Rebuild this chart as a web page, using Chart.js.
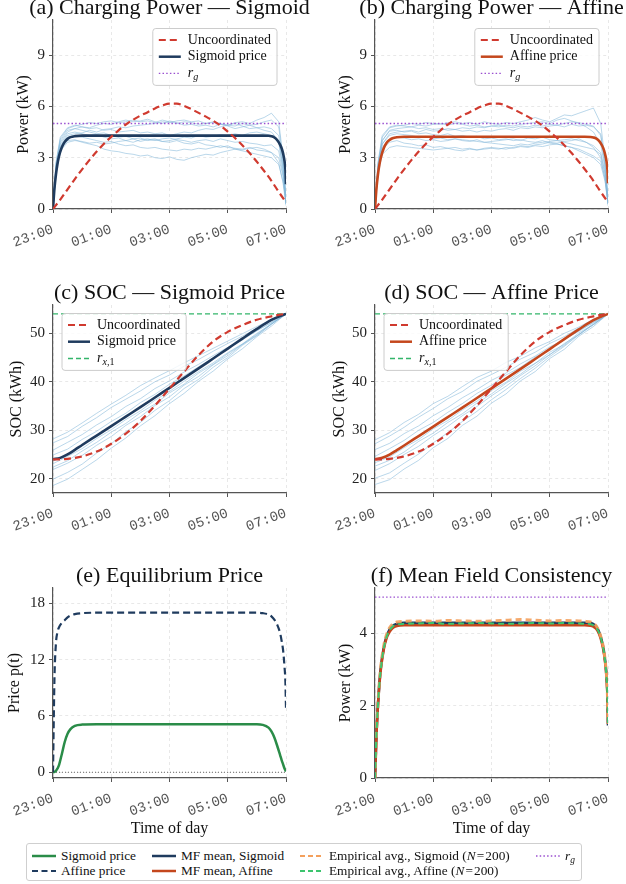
<!DOCTYPE html>
<html><head><meta charset="utf-8">
<script src="https://cdn.jsdelivr.net/npm/chart.js"></script>
<style>
html,body{margin:0;padding:0;background:#fff;overflow:hidden;width:626px;height:884px;position:relative}
canvas{position:absolute}
#legend{position:absolute;left:26px;top:843px;width:554px;height:36px;border:1px solid #cfcfcf;border-radius:3px;font:13.3px 'Liberation Serif';color:#111;background:#fff}
.li{position:absolute;white-space:nowrap;height:14px;line-height:14px}
.li svg{position:absolute;left:0;top:0}
.li span{position:absolute;left:30px;top:0}
</style></head><body>
<canvas id="ca" width="339" height="252" style="left:0;top:-3px"></canvas>
<canvas id="cb" width="357" height="252" style="left:313px;top:-3px"></canvas>
<canvas id="cc" width="339" height="251" style="left:0;top:282px"></canvas>
<canvas id="cd" width="357" height="251" style="left:313px;top:282px"></canvas>
<canvas id="ce" width="339" height="273" style="left:0;top:565px"></canvas>
<canvas id="cf" width="357" height="273" style="left:313px;top:565px"></canvas>
<div id="legend"></div>
<script>
// ---------- data ----------
const tickHours = [0, 2, 4, 6, 8];
const tickLabels = ['23:00', '01:00', '03:00', '05:00', '07:00'];
const powerTicks = [0, 3, 6, 9];
const socTicks = [20, 30, 40, 50];
const priceTicks = [0, 6, 12, 18];
const mfTicks = [0, 2, 4];
const rg = 5;
const rx1 = 54;

const hoursQ = [0,0.25,0.5,0.75,1,1.25,1.5,1.75,2,2.25,2.5,2.75,3,3.25,3.5,3.75,4,4.25,4.5,4.75,5,5.25,5.5,5.75,6,6.25,6.5,6.75,7,7.25,7.5,7.75,8];
const hoursFine = [0,0.05,0.1,0.15,0.2,0.3,0.4,0.5,0.6,0.75,1,1.5,2,2.5,3,3.5,4,4.5,5,5.5,6,6.5,7,7.2,7.4,7.5,7.6,7.7,7.8,7.85,7.9,7.95,7.98,8];
const hoursSamp = [0,0.1,0.25,0.5,0.75,1,1.25,1.5,1.75,2,2.25,2.5,2.75,3,3.25,3.5,3.75,4,4.25,4.5,4.75,5,5.25,5.5,5.75,6,6.25,6.5,6.75,7,7.25,7.5,7.75,7.9,8];
const hoursSoc = [0,0.25,0.5,0.75,1,1.5,2,2.5,3,3.5,4,4.5,5,5.5,6,6.5,7,7.5,7.75,8];
const hoursHalf = [0,0.5,1,1.5,2,2.5,3,3.5,4,4.5,5,5.5,6,6.5,7,7.5,8];

const powerUnc = [0.0,0.55,1.15,1.75,2.32,2.86,3.36,3.82,4.22,4.60,4.94,5.22,5.46,5.66,5.88,6.05,6.16,6.16,6.03,5.84,5.62,5.40,5.16,4.88,4.52,4.15,3.73,3.27,2.76,2.22,1.65,1.00,0.40];
const powerMfSig = [0,1.2,2.0,2.6,3.05,3.6,3.92,4.1,4.2,4.26,4.29,4.29,4.29,4.29,4.29,4.29,4.29,4.29,4.29,4.29,4.29,4.29,4.29,4.29,4.28,4.25,4.18,4.02,3.75,3.55,3.25,2.8,2.3,1.45];
const powerMfAff = [0,1.2,2.0,2.58,3.0,3.55,3.87,4.04,4.14,4.2,4.22,4.22,4.22,4.22,4.22,4.22,4.22,4.22,4.22,4.22,4.22,4.22,4.22,4.22,4.21,4.18,4.12,3.97,3.7,3.5,3.2,2.78,2.3,1.5];
const powerEmpSig = [0,1.25,2.05,2.65,3.1,3.65,3.97,4.15,4.25,4.31,4.33,4.34,4.33,4.35,4.34,4.33,4.34,4.36,4.38,4.36,4.34,4.35,4.34,4.33,4.31,4.27,4.2,4.04,3.77,3.57,3.27,2.82,2.32,1.5];
const powerEmpAff = [0,1.2,2.0,2.6,3.02,3.58,3.9,4.08,4.18,4.24,4.26,4.27,4.28,4.26,4.27,4.28,4.27,4.26,4.27,4.28,4.27,4.28,4.27,4.26,4.25,4.22,4.15,4.0,3.73,3.53,3.23,2.79,2.3,1.5];
const priceSig = [0,0.03,0.15,0.38,0.7,1.9,3.2,4.1,4.6,4.95,5.08,5.11,5.11,5.11,5.11,5.11,5.11,5.11,5.11,5.11,5.11,5.11,5.11,5.05,4.75,4.35,3.7,2.8,1.8,1.3,0.85,0.4,0.2,0.08];
const priceAff = [0,10.0,13.7,14.9,15.4,15.9,16.2,16.5,16.7,16.85,16.95,17.0,17.0,17.0,17.0,17.0,17.0,17.0,17.0,17.0,17.0,17.0,17.0,16.95,16.8,16.6,16.25,15.7,14.8,14.0,13.0,11.2,9.6,6.8];

const socUnc = [24.0,24.0,24.1,24.3,24.6,25.6,27.2,29.3,31.9,35.1,38.6,42.1,45.5,48.3,50.3,51.7,52.8,53.5,53.8,54.0];
const socMfSig = [24.0,24.3,25.0,25.95,26.95,28.9,30.85,32.8,34.75,36.75,38.75,40.75,42.75,44.8,46.85,48.9,50.9,52.75,53.45,54.0];
const socMfAff = [24.0,24.3,24.95,25.9,26.85,28.8,30.75,32.7,34.65,36.65,38.65,40.65,42.65,44.7,46.75,48.8,50.8,52.7,53.4,54.0];

const sampPowerSig = [
 [0,2.6,4.1,4.7,4.85,4.95,5.05,5.0,5.1,5.15,5.05,5.1,5.2,5.1,5.15,5.05,5.2,5.1,5.0,5.1,5.05,4.95,5.0,5.1,5.0,4.9,5.05,5.1,5.0,5.2,5.35,5.6,5.1,3.0,0.6],
 [0,2.4,3.9,4.5,4.7,4.8,4.75,4.9,5.0,4.95,5.1,5.2,5.1,5.15,5.25,5.1,5.0,5.15,5.05,4.9,4.95,4.85,4.9,4.8,4.95,4.85,4.7,4.8,4.9,4.75,4.8,4.7,4.3,2.6,0.3],
 [0,2.3,3.8,4.4,4.5,4.4,4.3,4.35,4.2,4.1,4.15,4.0,4.1,3.95,4.05,4.1,3.95,4.0,4.1,4.2,4.15,4.3,4.2,4.25,4.35,4.3,4.4,4.3,4.45,4.5,4.4,4.3,3.9,2.2,0.5],
 [0,2.2,3.6,4.2,4.3,4.2,4.1,4.0,3.9,3.95,3.8,3.7,3.75,3.6,3.55,3.6,3.5,3.45,3.4,3.5,3.45,3.55,3.5,3.6,3.7,3.6,3.55,3.5,3.6,3.45,3.4,3.3,3.0,1.9,0.3],
 [0,2.1,3.5,4.0,4.05,3.9,3.8,3.7,3.5,3.4,3.35,3.25,3.2,3.1,3.15,3.0,2.95,3.05,2.9,2.85,3.0,3.1,3.2,3.15,3.3,3.4,3.5,3.45,3.55,3.6,3.5,3.3,2.7,1.5,0.2],
 [0,2.5,4.0,4.6,4.7,4.6,4.5,4.4,4.45,4.3,4.2,4.25,4.1,4.15,4.0,4.05,3.95,3.9,4.0,3.85,3.8,3.9,3.75,3.7,3.6,3.7,3.5,3.4,3.3,3.2,3.1,3.0,2.6,1.6,0.4],
 [0,2.7,4.2,4.75,4.9,4.8,4.7,4.75,4.6,4.65,4.5,4.55,4.6,4.45,4.5,4.4,4.45,4.3,4.4,4.5,4.45,4.6,4.7,4.65,4.8,4.9,4.85,5.0,4.9,4.95,5.1,5.2,4.8,2.8,0.8],
 [0,2.3,3.7,4.3,4.4,4.45,4.6,4.5,4.65,4.7,4.8,4.75,4.85,4.9,4.95,5.0,5.1,5.05,5.15,5.2,5.1,5.15,5.0,5.05,4.95,4.9,5.0,4.85,4.7,4.75,4.6,4.5,4.0,2.4,0.5],
 [0,2.0,3.4,3.9,4.0,3.95,3.85,3.9,3.8,3.85,3.95,4.0,3.9,4.05,4.1,4.0,4.1,4.15,4.05,4.0,3.9,4.0,4.05,3.95,4.1,4.0,3.9,3.95,3.85,3.8,3.7,3.75,3.4,2.0,0.3]
];
const sampPowerAff = [
 [0,2.6,4.2,4.75,4.85,4.9,5.0,4.95,5.05,5.0,4.95,5.05,5.1,5.0,5.05,4.95,5.1,5.0,4.95,5.05,5.0,5.1,5.2,5.35,5.2,5.1,5.3,5.5,5.45,5.6,5.75,5.9,5.0,2.8,0.6],
 [0,2.4,4.0,4.6,4.7,4.75,4.8,4.9,4.85,4.95,5.0,4.9,5.0,4.95,4.85,4.9,4.8,4.85,4.9,4.8,4.75,4.85,4.8,4.9,4.85,4.95,4.9,5.0,5.1,5.05,4.95,4.85,4.3,2.5,0.3],
 [0,2.3,3.8,4.3,4.4,4.35,4.3,4.2,4.25,4.1,4.15,4.05,4.1,4.0,3.95,4.05,3.9,3.95,4.0,4.05,4.1,4.0,4.15,4.1,4.2,4.05,4.0,3.9,3.8,3.7,3.6,3.5,3.2,2.0,0.5],
 [0,2.1,3.5,3.9,4.0,3.85,3.8,3.7,3.75,3.6,3.65,3.55,3.6,3.5,3.55,3.45,3.5,3.55,3.5,3.6,3.55,3.65,3.6,3.7,3.65,3.75,3.8,3.7,3.6,3.5,3.3,3.1,2.8,1.8,0.3],
 [0,2.0,3.2,3.6,3.7,3.65,3.6,3.55,3.5,3.45,3.5,3.55,3.45,3.4,3.5,3.45,3.55,3.6,3.55,3.5,3.6,3.7,3.65,3.75,3.8,3.9,3.85,3.95,4.0,4.1,3.9,3.6,3.0,1.7,0.2],
 [0,2.5,4.0,4.55,4.6,4.5,4.55,4.4,4.45,4.35,4.3,4.4,4.25,4.3,4.2,4.25,4.1,4.15,4.05,4.1,4.0,4.05,3.95,3.9,4.0,3.85,3.8,3.7,3.6,3.4,3.2,3.0,2.6,1.6,0.4],
 [0,2.7,4.3,4.8,4.9,4.85,4.8,4.7,4.75,4.65,4.7,4.6,4.65,4.55,4.6,4.5,4.6,4.55,4.65,4.7,4.6,4.75,4.7,4.8,4.75,4.85,4.9,4.8,4.95,4.85,4.9,4.8,4.4,2.6,0.8],
 [0,2.3,3.8,4.4,4.5,4.55,4.6,4.5,4.65,4.55,4.6,4.7,4.65,4.75,4.7,4.8,4.75,4.85,4.8,4.9,4.85,4.95,5.0,5.05,5.1,5.0,5.2,5.3,5.15,5.0,4.8,4.5,3.8,2.3,0.5],
 [0,2.2,3.6,4.1,4.2,4.15,4.05,4.1,4.0,4.05,3.95,4.0,4.1,4.05,4.0,3.95,3.9,3.85,3.8,3.75,3.7,3.8,3.75,3.85,3.9,3.95,4.0,4.05,4.1,4.0,3.9,3.7,3.3,2.1,0.3]
];
const sampSocSig = [
 [28.2,29.6,31.5,33.5,35.4,37.2,39.2,40.8,42.3,43.9,45.4,46.9,48.4,49.9,51.4,52.8,54.0],
 [27.4,28.7,30.8,32.6,34.7,36.4,38.1,40.0,41.4,43.2,44.6,46.3,47.9,49.4,51.0,52.6,54.0],
 [25.9,27.5,29.1,31.1,32.8,34.9,36.5,38.6,40.2,42.0,43.6,45.4,47.1,48.8,50.5,52.3,54.0],
 [24.9,26.1,28.1,29.8,31.8,33.5,35.7,37.4,39.5,41.2,43.1,44.9,46.9,48.6,50.6,52.2,54.0],
 [23.1,24.6,26.2,28.3,30.1,32.2,34.0,36.2,38.0,40.1,42.1,43.9,46.0,47.8,50.0,51.9,54.0],
 [22.4,23.7,25.7,27.5,29.6,31.4,33.6,35.4,37.7,39.5,41.8,43.6,45.8,47.7,49.8,52.0,54.0],
 [21.9,23.2,24.8,26.9,28.7,31.0,32.8,35.1,36.9,39.3,41.1,43.5,45.4,47.7,49.6,51.9,54.0],
 [19.9,21.3,23.0,25.3,27.2,29.7,31.6,34.1,36.1,38.6,40.5,43.0,45.0,47.5,49.5,51.9,54.0],
 [18.6,19.9,21.9,23.9,26.3,28.4,30.9,33.0,35.5,37.6,40.1,42.2,44.7,46.8,49.3,51.5,54.0]
];
const sampSocAff = [
 [28.0,29.5,31.6,33.3,35.5,37.0,39.0,40.9,42.2,44.0,45.3,47.0,48.3,50.0,51.3,52.9,54.0],
 [27.2,28.8,30.6,32.7,34.5,36.5,38.0,40.1,41.5,43.0,44.7,46.1,47.9,49.3,51.1,52.5,54.0],
 [26.0,27.3,29.3,30.9,33.0,34.7,36.7,38.4,40.3,41.8,43.7,45.3,47.2,48.7,50.6,52.2,54.0],
 [24.6,26.2,27.9,30.0,31.6,33.7,35.5,37.6,39.3,41.4,43.0,45.1,46.7,48.8,50.4,52.3,54.0],
 [23.3,24.5,26.4,28.1,30.3,32.0,34.2,36.0,38.2,39.9,42.2,43.8,46.1,47.7,50.1,51.8,54.0],
 [22.6,23.8,25.5,27.7,29.4,31.6,33.4,35.6,37.5,39.7,41.6,43.8,45.6,47.9,49.7,52.0,54.0],
 [21.7,23.1,25.0,26.7,28.9,30.8,33.0,34.9,37.1,39.1,41.3,43.3,45.6,47.5,49.8,51.8,54.0],
 [20.1,21.2,23.2,25.1,27.4,29.5,31.8,33.9,36.3,38.4,40.7,42.8,45.2,47.3,49.7,51.8,54.0],
 [18.8,19.8,22.0,23.8,26.4,28.3,31.0,32.9,35.6,37.5,40.2,42.1,44.8,46.7,49.4,51.4,54.0]
];

// ---------- styles ----------
const SERIF = "'Liberation Serif', 'Times New Roman', serif";
const MONO = "'Liberation Mono', 'DejaVu Sans Mono', monospace";
const NAVY = '#1f3b5e', AFF = '#c4471d', UNC = '#d03a2f', RG = '#9a4fd0';
const SAMP = 'rgba(130,182,216,0.55)', RX1 = '#33b56a', GREEN = '#2a8c48';
const EMP_SIG = 'rgba(244,160,92,0.9)', EMP_AFF = '#3cc46e';

const pts = (xs, ys) => ys.map((y, i) => ({x: xs[i], y}));
function ds(xs, ys, color, o) {
  return Object.assign({data: pts(xs, ys), borderColor: color, borderWidth: 2.4, pointRadius: 0,
    fill: false, tension: 0, yAxisID: 'y', borderJoinStyle: 'round'}, o || {});
}
const smooth = {cubicInterpolationMode: 'monotone'};
function samples(xs, arrs) {
  return arrs.map(a => ds(xs, a, SAMP, {borderWidth: 1, order: 20}));
}

// rich text for legends
function fontStr(p, size) { const s = p.sub ? size * 0.72 : size; return (p.i ? 'italic ' : '') + s + 'px ' + SERIF; }
function richWidth(ctx, parts, size) { let w = 0; for (const p of parts) { ctx.font = fontStr(p, size); w += ctx.measureText(p.t).width; } return w; }
function drawRich(ctx, parts, x, y, size) {
  for (const p of parts) { ctx.font = fontStr(p, size); ctx.fillText(p.t, x, y + (p.sub ? size * 0.3 : 0)); x += ctx.measureText(p.t).width; }
}
const lblUnc = [{t: 'Uncoordinated'}];
const lblSig = [{t: 'Sigmoid price'}];
const lblAff = [{t: 'Affine price'}];
const lblRg = [{t: 'r', i: true}, {t: 'g', i: true, sub: true}];
const lblRx = [{t: 'r', i: true}, {t: 'x', i: true, sub: true}, {t: ',1', sub: true}];

function panelLegend(items, align) {
  return {
    id: 'panelLegend',
    afterDatasetsDraw(chart) {
      const ctx = chart.ctx, ca = chart.chartArea, size = 14, rowH = 16.7;
      ctx.save();
      const tw = Math.max(...items.map(it => richWidth(ctx, it.parts, size)));
      const w = 6 + 22 + 7 + tw + 6;
      const h = rowH * (items.length - 1) + 23.5;
      const x = align === 'right' ? ca.right - 9 - w : ca.left + 9;
      const y = ca.top + 8.5;
      const r = 3;
      ctx.beginPath();
      ctx.moveTo(x + r, y); ctx.lineTo(x + w - r, y); ctx.arcTo(x + w, y, x + w, y + r, r);
      ctx.lineTo(x + w, y + h - r); ctx.arcTo(x + w, y + h, x + w - r, y + h, r);
      ctx.lineTo(x + r, y + h); ctx.arcTo(x, y + h, x, y + h - r, r);
      ctx.lineTo(x, y + r); ctx.arcTo(x, y, x + r, y, r); ctx.closePath();
      ctx.fillStyle = 'rgba(255,255,255,0.82)'; ctx.fill();
      ctx.strokeStyle = '#cccccc'; ctx.lineWidth = 1; ctx.stroke();
      items.forEach((it, i) => {
        const cy = y + 11.5 + i * rowH;
        ctx.beginPath(); ctx.setLineDash(it.dash || []); ctx.strokeStyle = it.color; ctx.lineWidth = it.width;
        ctx.moveTo(x + 6, cy); ctx.lineTo(x + 28, cy); ctx.stroke(); ctx.setLineDash([]);
        ctx.fillStyle = '#111'; ctx.textBaseline = 'middle'; ctx.textAlign = 'left';
        drawRich(ctx, it.parts, x + 35, cy, size);
      });
      ctx.restore();
    }
  };
}

const DASH = [7, 4], DOT = [1.5, 2.2];

function makeChart(id, cfg) {
  const yW = cfg.col === 0 ? 53 : 62;
  const gridOpts = {color: '#e3e3e3', lineWidth: 0.8, tickLength: 4, tickColor: '#555', tickWidth: 1, tickBorderDash: []};
  const borderOpts = {display: true, color: '#555', width: 1.2, dash: [3, 3]};
  new Chart(document.getElementById(id), {
    type: 'line',
    data: {datasets: cfg.datasets},
    options: {
      responsive: false, animation: false, devicePixelRatio: 1,
      layout: {padding: 0},
      plugins: {
        legend: {display: false}, tooltip: {enabled: false},
        title: {display: true, text: cfg.title, color: '#111', font: {family: SERIF, size: 22, weight: 'normal', lineHeight: 1}, padding: {top: 0, bottom: 1}}
      },
      scales: {
        x: {
          type: 'linear', min: 0, max: 8,
          afterBuildTicks: s => { s.ticks = tickHours.map(v => ({value: v})); },
          afterFit: s => { s.height = cfg.xH; },
          ticks: {autoSkip: false, minRotation: 20, maxRotation: 20, padding: 8, color: '#555',
            font: {family: MONO, size: 14}, callback: v => tickLabels[tickHours.indexOf(v)]},
          grid: gridOpts, border: borderOpts,
          title: {display: !!cfg.xTitle, text: cfg.xTitle || '', color: '#111', font: {family: SERIF, size: 16, weight: 'normal', lineHeight: 1.2}, padding: {top: 0, bottom: 0}}
        },
        y: {
          type: 'linear', min: cfg.yMin, max: cfg.yMax,
          afterBuildTicks: s => { s.ticks = cfg.yTicks.map(v => ({value: v})); },
          afterFit: s => { s.width = yW; },
          ticks: {padding: 4, color: '#222', font: {family: SERIF, size: 15}},
          grid: gridOpts, border: borderOpts,
          title: {display: true, text: cfg.yTitle, color: '#111', font: {family: SERIF, size: 16, weight: 'normal', lineHeight: 1.2}, padding: {top: cfg.yTitleCx - 9.6, bottom: 0}}
        },
        yR: {
          type: 'linear', position: 'right', display: true,
          grid: {display: false, drawTicks: false}, border: {display: false}, ticks: {display: false},
          afterFit: s => { s.width = yW; }
        }
      }
    },
    plugins: cfg.legend ? [panelLegend(cfg.legend.items, cfg.legend.align)] : []
  });
}

const legPowerSig = [
  {parts: lblUnc, color: UNC, dash: DASH, width: 2},
  {parts: lblSig, color: NAVY, width: 2.5},
  {parts: lblRg, color: RG, dash: DOT, width: 1.3}];
const legPowerAff = [
  {parts: lblUnc, color: UNC, dash: DASH, width: 2},
  {parts: lblAff, color: AFF, width: 2.5},
  {parts: lblRg, color: RG, dash: DOT, width: 1.3}];
const legSocSig = [
  {parts: lblUnc, color: UNC, dash: DASH, width: 2},
  {parts: lblSig, color: NAVY, width: 2.5},
  {parts: lblRx, color: RX1, dash: [5, 3], width: 1.5}];
const legSocAff = [
  {parts: lblUnc, color: UNC, dash: DASH, width: 2},
  {parts: lblAff, color: AFF, width: 2.5},
  {parts: lblRx, color: RX1, dash: [5, 3], width: 1.5}];

makeChart('ca', {col: 0, title: '(a) Charging Power — Sigmoid', yTitle: 'Power (kW)', yMin: 0, yMax: 11.05, yTicks: powerTicks, yTitleCx: 23.5, xH: 40,
  legend: {align: 'right', items: legPowerSig},
  datasets: [
    ds(hoursQ, powerUnc, UNC, Object.assign({borderDash: DASH, borderWidth: 2.2, order: 0}, smooth)),
    ds(hoursFine, powerMfSig, NAVY, Object.assign({borderWidth: 2.6, order: 1}, smooth)),
    ds([0, 8], [rg, rg], RG, {borderDash: DOT, borderWidth: 1.3, order: 2}),
    ...samples(hoursSamp, sampPowerSig)]});

makeChart('cb', {col: 1, title: '(b) Charging Power — Affine', yTitle: 'Power (kW)', yMin: 0, yMax: 11.05, yTicks: powerTicks, yTitleCx: 33, xH: 40,
  legend: {align: 'right', items: legPowerAff},
  datasets: [
    ds(hoursQ, powerUnc, UNC, Object.assign({borderDash: DASH, borderWidth: 2.2, order: 0}, smooth)),
    ds(hoursFine, powerMfAff, AFF, Object.assign({borderWidth: 2.6, order: 1}, smooth)),
    ds([0, 8], [rg, rg], RG, {borderDash: DOT, borderWidth: 1.3, order: 2}),
    ...samples(hoursSamp, sampPowerAff)]});

makeChart('cc', {col: 0, title: '(c) SOC — Sigmoid Price', yTitle: 'SOC (kWh)', yMin: 17.05, yMax: 55.84, yTicks: socTicks, yTitleCx: 16.7, xH: 40,
  legend: {align: 'left', items: legSocSig},
  datasets: [
    ds(hoursSoc, socUnc, UNC, Object.assign({borderDash: DASH, borderWidth: 2.2, order: 0}, smooth)),
    ds(hoursSoc, socMfSig, NAVY, Object.assign({borderWidth: 2.6, order: 1}, smooth)),
    ds([0, 8], [rx1, rx1], RX1, {borderDash: [5, 3], borderWidth: 1.3, order: 2}),
    ...samples(hoursHalf, sampSocSig)]});

makeChart('cd', {col: 1, title: '(d) SOC — Affine Price', yTitle: 'SOC (kWh)', yMin: 17.05, yMax: 55.84, yTicks: socTicks, yTitleCx: 26.7, xH: 40,
  legend: {align: 'left', items: legSocAff},
  datasets: [
    ds(hoursSoc, socUnc, UNC, Object.assign({borderDash: DASH, borderWidth: 2.2, order: 0}, smooth)),
    ds(hoursSoc, socMfAff, AFF, Object.assign({borderWidth: 2.6, order: 1}, smooth)),
    ds([0, 8], [rx1, rx1], RX1, {borderDash: [5, 3], borderWidth: 1.3, order: 2}),
    ...samples(hoursHalf, sampSocAff)]});

makeChart('ce', {col: 0, title: '(e) Equilibrium Price', yTitle: 'Price p(t)', yMin: -0.61, yMax: 19.63, yTicks: priceTicks, yTitleCx: 15, xH: 60, xTitle: 'Time of day',
  datasets: [
    ds(hoursFine, priceSig, GREEN, Object.assign({borderWidth: 2.5, order: 1}, smooth)),
    ds(hoursFine, priceAff, NAVY, Object.assign({borderDash: DASH, borderWidth: 2.2, order: 0}, smooth)),
    ds([0, 8], [0, 0], '#666', {borderDash: [1, 2], borderWidth: 1, order: 2})]});

makeChart('cf', {col: 1, title: '(f) Mean Field Consistency', yTitle: 'Power (kW)', yMin: 0, yMax: 5.25, yTicks: mfTicks, yTitleCx: 32.5, xH: 60, xTitle: 'Time of day',
  datasets: [
    ds([0, 8], [rg, rg], RG, {borderDash: DOT, borderWidth: 1.3, order: 0}),
    ds(hoursFine, powerEmpAff, EMP_AFF, Object.assign({borderDash: [6, 4], borderWidth: 2, order: 1}, smooth)),
    ds(hoursFine, powerEmpSig, EMP_SIG, Object.assign({borderDash: [6, 4], borderWidth: 3, order: 2}, smooth)),
    ds(hoursFine, powerMfAff, AFF, Object.assign({borderWidth: 2.6, order: 3}, smooth)),
    ds(hoursFine, powerMfSig, NAVY, Object.assign({borderWidth: 2.6, order: 4}, smooth))]});

// ---------- bottom legend (HTML) ----------
const bottomItems = [
  {html: 'Sigmoid price', color: GREEN, dash: '', w: 2.5, col: 0, row: 0},
  {html: 'Affine price', color: NAVY, dash: '6,3.5', w: 2.2, col: 0, row: 1},
  {html: 'MF mean, Sigmoid', color: NAVY, dash: '', w: 2.5, col: 1, row: 0},
  {html: 'MF mean, Affine', color: AFF, dash: '', w: 2.5, col: 1, row: 1},
  {html: 'Empirical avg., Sigmoid (<i>N</i>&#8202;=&#8202;200)', color: '#f4a05c', dash: '5,3', w: 2, col: 2, row: 0},
  {html: 'Empirical avg., Affine (<i>N</i>&#8202;=&#8202;200)', color: EMP_AFF, dash: '5,3', w: 2, col: 2, row: 1},
  {html: '<i>r</i><sub style="font-size:9.5px;vertical-align:-3px"><i>g</i></sub>', color: RG, dash: '1.5,2.2', w: 1.3, col: 3, row: 0}
];
const colX = [4, 124, 272, 508];
const rowY = [5, 20];
const leg = document.getElementById('legend');
for (const it of bottomItems) {
  const d = document.createElement('div');
  d.className = 'li';
  d.style.left = colX[it.col] + 'px';
  d.style.top = rowY[it.row] + 'px';
  d.innerHTML = '<svg width="26" height="14"><line x1="1" y1="7" x2="25" y2="7" stroke="' + it.color + '" stroke-width="' + it.w + '"' +
    (it.dash ? ' stroke-dasharray="' + it.dash + '"' : '') + '/></svg><span>' + it.html + '</span>';
  leg.appendChild(d);
}
</script>
</body></html>
